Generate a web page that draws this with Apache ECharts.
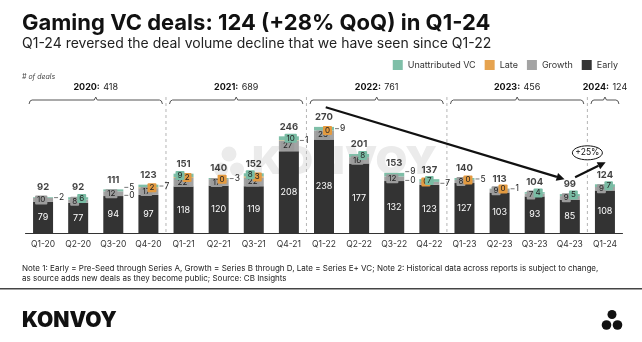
<!DOCTYPE html>
<html>
<head>
<meta charset="utf-8">
<script src="https://cdn.jsdelivr.net/npm/echarts@6/dist/echarts.min.js"></script>
<style>
  html, body { margin: 0; padding: 0; background: #ffffff; }
  #chart { width: 642px; height: 342px; }
</style>
</head>
<body>
<div id="chart"></div>
<script>
// Quarterly gaming VC deal counts by stage
const quarters = ['Q1-20','Q2-20','Q3-20','Q4-20','Q1-21','Q2-21','Q3-21','Q4-21',
                  'Q1-22','Q2-22','Q3-22','Q4-22','Q1-23','Q2-23','Q3-23','Q4-23','Q1-24'];
const early        = [79, 77, 94, 97, 118, 120, 119, 208, 238, 177, 132, 123, 127, 103, 93, 85, 108];
const growth       = [10, 8, 12, 17, 22, 17, 22, 27, 23, 16, 12, 7, 8, 9, 7, 9, 9];
const late         = [0, 0, 0, 2, 2, 0, 3, 1, 0, 0, 0, 0, 0, 0, 0, 0, 0];
const unattributed = [2, 6, 5, 7, 9, 3, 8, 10, 9, 8, 9, 7, 5, 1, 4, 5, 7];
const totals       = [92, 92, 111, 123, 151, 140, 152, 246, 270, 201, 153, 137, 140, 113, 104, 99, 124];

// Yearly totals and the quarter ranges they cover
const years      = ['2020', '2021', '2022', '2023', '2024'];
const yearTotals = [418, 689, 761, 456, 124];
const yearSpans  = [[0, 3], [4, 7], [8, 11], [12, 15], [16, 16]];

// Trend annotations (category position, deal count)
const declineFrom = [8.05, 320];
const declineTo   = [14.85, 137];
const reboundFrom = [15.15, 142];
const reboundTo   = [16.02, 180];
const reboundNote = { text: '+25%', at: [15.5, 204] };

const COLORS = { early: '#333333', growth: '#a3a3a3', late: '#e6a34f', unatt: '#7fbfa8' };
const FONT = 'Inter';

// Label placement rules for the small segments
const lateHidden = new Set([0, 1, 9, 14, 15, 16]);
const outside = {
  growth: new Set([11]),
  late: new Set([2, 7, 10]),
  unatt: new Set([0, 2, 3, 5, 8, 10, 12, 13])
};
const lateOnLeft = new Set([11]);

const boxLabel = (bg, side) => ({
  show: true,
  position: side === 'left' ? [2, '50%'] : ['100%', '50%'],
  offset: side === 'left' ? [0, 0] : [-2, 0],
  align: side === 'left' ? 'left' : 'right',
  verticalAlign: 'middle',
  backgroundColor: bg,
  padding: [1, 2, 0, 2],
  borderRadius: 1,
  color: '#222',
  fontFamily: FONT,
  fontSize: 8,
  lineHeight: 8
});

const outsideLabel = (dy) => ({
  show: true,
  position: ['100%', '50%'],
  offset: [1, dy],
  align: 'left',
  verticalAlign: 'middle',
  formatter: (p) => '{l|}{v|' + p.value + '}',
  rich: {
    l: { width: 4, height: 1, backgroundColor: '#777' },
    v: { color: '#222', fontFamily: FONT, fontSize: 8.5, padding: [0, 0, 0, 1] }
  }
});

function growthItem(v, i) {
  let label;
  if (outside.growth.has(i)) label = outsideLabel(0);
  else label = boxLabel('#9c9c9c', 'left');
  return { value: v, label };
}
function lateItem(v, i) {
  let label;
  if (lateHidden.has(i)) label = { show: false };
  else if (outside.late.has(i)) label = outsideLabel(outside.unatt.has(i) ? 4 : 0);
  else label = boxLabel('#e39a40', lateOnLeft.has(i) ? 'left' : 'right');
  return { value: v, label };
}
function unattItem(v, i) {
  let label;
  if (outside.unatt.has(i)) label = outsideLabel(outside.late.has(i) ? -3 : 0);
  else {
    const lateBox = !lateHidden.has(i) && !outside.late.has(i) && !lateOnLeft.has(i);
    label = boxLabel('#79bca4', lateBox ? 'left' : 'right');
    if (lateOnLeft.has(i)) { label.position = ['50%', '50%']; label.align = 'center'; label.offset = [0, 0]; }
  }
  return { value: v, label };
}

const chart = echarts.init(document.getElementById('chart'), null, { renderer: 'canvas' });

const barBase = { type: 'bar', stack: 'deals', barWidth: 20, z: 3 };

chart.setOption({
  animation: false,
  textStyle: { fontFamily: FONT },
  grid: { left: 25.5, right: 19.5, top: 103.3, bottom: 109 },
  legend: {
    data: ['Unattributed VC', 'Late', 'Growth', 'Early'],
    right: 19, top: 55,
    icon: 'rect', itemWidth: 10, itemHeight: 10, itemGap: 9,
    textStyle: { fontFamily: FONT, fontSize: 9, color: '#333' }
  },
  xAxis: {
    type: 'category',
    data: quarters,
    axisLine: { lineStyle: { color: '#333', width: 1 } },
    axisTick: { show: false },
    axisLabel: { color: '#333', fontFamily: FONT, fontSize: 8.5, margin: 7 }
  },
  yAxis: {
    type: 'value', min: 0, max: 330, show: false,
    splitLine: { show: false }
  },
  series: [
    Object.assign({}, barBase, {
      name: 'Early', data: early,
      itemStyle: { color: COLORS.early },
      label: { show: true, position: 'inside', color: '#fff', fontFamily: FONT, fontSize: 9 }
    }),
    Object.assign({}, barBase, {
      name: 'Growth', data: growth.map(growthItem),
      itemStyle: { color: COLORS.growth }
    }),
    Object.assign({}, barBase, {
      name: 'Late', data: late.map(lateItem),
      itemStyle: { color: COLORS.late }
    }),
    Object.assign({}, barBase, {
      name: 'Unattributed VC', data: unattributed.map(unattItem),
      itemStyle: { color: COLORS.unatt }
    }),
    {
      name: 'Total', type: 'scatter', data: totals, symbolSize: 1, z: 4,
      itemStyle: { color: 'rgba(0,0,0,0)' },
      label: { show: true, position: 'top', distance: 4, color: '#111', fontFamily: FONT, fontWeight: 'bold', fontSize: 9.5 }
    }
  ]
});

// Decorations positioned through the axes
const px = (idx, val) => {
  const x0 = chart.convertToPixel({ xAxisIndex: 0 }, 0);
  const x1 = chart.convertToPixel({ xAxisIndex: 0 }, 1);
  return [x0 + (x1 - x0) * idx, chart.convertToPixel({ yAxisIndex: 0 }, val)];
};
const baseY = px(0, 0)[1];

const graphics = [];

// Titles and notes
graphics.push(
  { type: 'text', left: 22, top: 12, style: { text: 'Gaming VC deals: 124 (+28% QoQ) in Q1-24', fontFamily: FONT, fontWeight: 'bold', fontSize: 22, fill: '#111' } },
  { type: 'text', left: 22, top: 37, style: { text: 'Q1-24 reversed the deal volume decline that we have seen since Q1-22', fontFamily: FONT, fontSize: 14, fill: '#222' } },
  { type: 'text', left: 22, top: 73, style: { text: '# of deals', fontFamily: FONT, fontStyle: 'italic', fontSize: 7, fill: '#444' } },
  { type: 'text', left: 22, top: 264, style: { text: 'Note 1: Early = Pre-Seed through Series A, Growth = Series B through D, Late = Series E+ VC; Note 2: Historical data across reports is subject to change,\nas source adds new deals as they become public; Source: CB Insights', fontFamily: FONT, fontSize: 8, lineHeight: 9.5, fill: '#222' } },
  { type: 'rect', shape: { x: 0, y: 288, width: 642, height: 1.6 }, style: { fill: '#444' } },
  { type: 'text', left: 22, top: 310, style: { text: 'KONVOY', fontFamily: FONT, fontWeight: 900, fontSize: 21, fill: '#111' } },
  { type: 'circle', shape: { cx: 612, cy: 314.5, r: 4.5 }, style: { fill: '#111' } },
  { type: 'circle', shape: { cx: 606.5, cy: 325, r: 4.8 }, style: { fill: '#111' } },
  { type: 'circle', shape: { cx: 617.5, cy: 325, r: 4.8 }, style: { fill: '#111' } }
);

// Watermark behind the bars
graphics.push(
  { type: 'circle', z: 0, shape: { cx: 229, cy: 154, r: 7.5 }, style: { fill: '#ebebeb' } },
  { type: 'circle', z: 0, shape: { cx: 221, cy: 169.5, r: 7 }, style: { fill: '#ebebeb' } },
  { type: 'circle', z: 0, shape: { cx: 237, cy: 169.5, r: 7 }, style: { fill: '#ebebeb' } },
  { type: 'text', z: 0, x: 252, y: 163, scaleX: 1.08, style: { text: 'KONVOY', verticalAlign: 'middle', fontFamily: FONT, fontWeight: 900, fontSize: 38, fill: '#ebebeb' } }
);

// Year separators, braces and totals
yearSpans.forEach(([a, b], k) => {
  const xa = px(a, 0)[0] - 14;
  const xb = px(b, 0)[0] + 14;
  const xm = (xa + xb) / 2;
  const yb = 100;
  graphics.push({
    type: 'polyline', z: 5,
    shape: { points: [[xa, yb + 4], [xa + 1, yb + 1], [xa + 3, yb], [xm - 1.5, yb], [xm, yb - 3], [xm + 1.5, yb], [xb - 3, yb], [xb - 1, yb + 1], [xb, yb + 4]] },
    style: { stroke: '#555', lineWidth: 1, fill: null }
  });
  graphics.push({
    type: 'text', z: 5, x: xm, y: 87,
    style: {
      text: '{b|' + years[k] + ':} {n|' + yearTotals[k] + '}',
      align: 'center', verticalAlign: 'middle',
      rich: {
        b: { fontFamily: FONT, fontWeight: 'bold', fontSize: 9, fill: '#111' },
        n: { fontFamily: FONT, fontSize: 9, fill: '#222' }
      }
    }
  });
  if (k < yearSpans.length - 1) {
    const xs = px(b + 0.5, 0)[0];
    graphics.push({
      type: 'line', z: 1,
      shape: { x1: xs, y1: 97, x2: xs, y2: baseY },
      style: { stroke: '#b5b5b5', lineWidth: 1, lineDash: [3, 3] }
    });
  }
});

// Trend arrows
function arrow(from, to) {
  const p1 = px(from[0], from[1]);
  const p2 = px(to[0], to[1]);
  const ang = Math.atan2(p2[1] - p1[1], p2[0] - p1[0]);
  const len = 8, half = 4;
  const bx = p2[0] - len * Math.cos(ang), by = p2[1] - len * Math.sin(ang);
  const nx = -Math.sin(ang) * half, ny = Math.cos(ang) * half;
  graphics.push({
    type: 'line', z: 6,
    shape: { x1: p1[0], y1: p1[1], x2: bx, y2: by },
    style: { stroke: '#111', lineWidth: 2.2 }
  });
  graphics.push({
    type: 'polygon', z: 6,
    shape: { points: [[p2[0], p2[1]], [bx + nx, by + ny], [bx - nx, by - ny]] },
    style: { fill: '#111' }
  });
}
arrow(declineFrom, declineTo);
arrow(reboundFrom, reboundTo);

const notePos = px(reboundNote.at[0], reboundNote.at[1]);
graphics.push(
  { type: 'ellipse', z: 6, shape: { cx: notePos[0], cy: notePos[1], rx: 15, ry: 7 }, style: { fill: '#fff', stroke: '#111', lineWidth: 1 } },
  { type: 'text', z: 7, x: notePos[0], y: notePos[1], style: { text: reboundNote.text, align: 'center', verticalAlign: 'middle', fontFamily: FONT, fontSize: 8.5, fill: '#111' } }
);

chart.setOption({ graphic: graphics });
</script>
</body>
</html>
